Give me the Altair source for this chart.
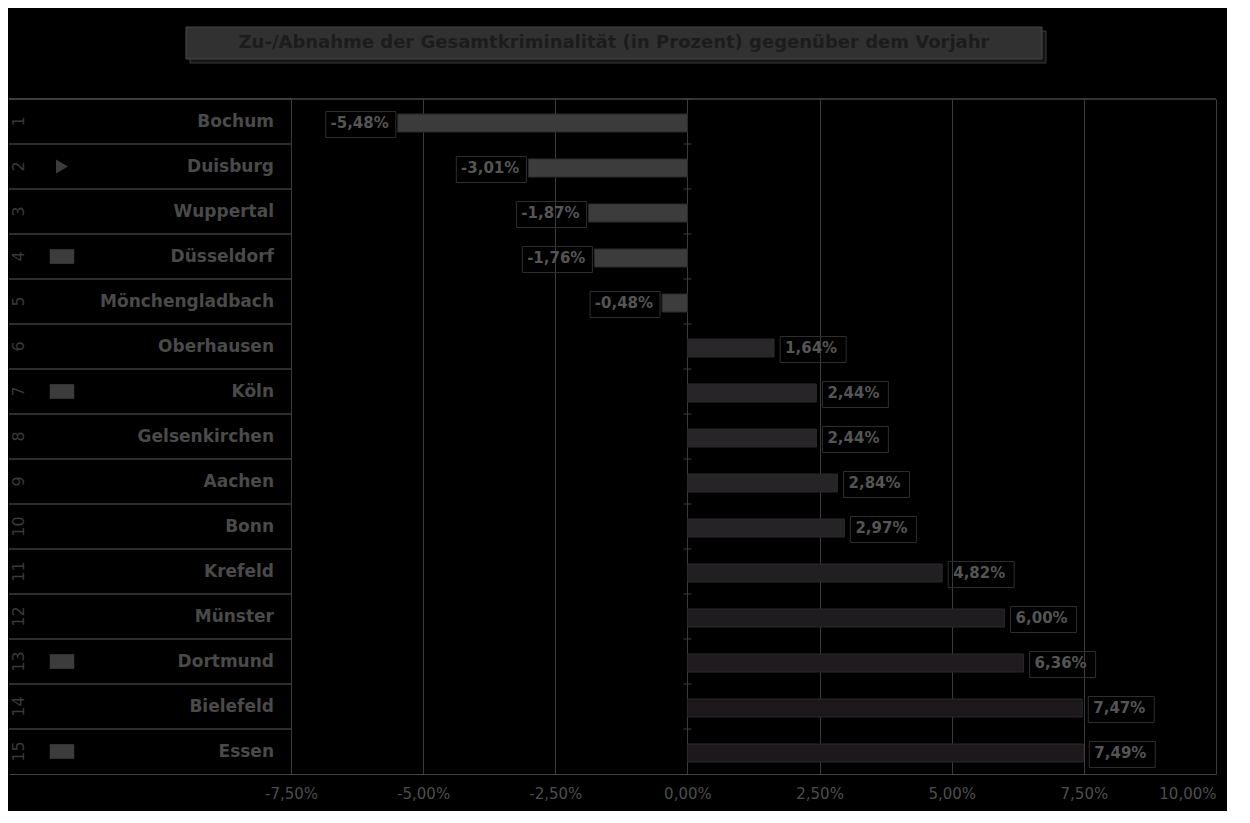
import altair as alt
import pandas as pd

cities = ["Bochum", "Duisburg", "Wuppertal", "Düsseldorf", "Mönchengladbach",
          "Oberhausen", "Köln", "Gelsenkirchen", "Aachen", "Bonn", "Krefeld",
          "Münster", "Dortmund", "Bielefeld", "Essen"]
values = [-5.48, -3.01, -1.87, -1.76, -0.48, 1.64, 2.44, 2.44, 2.84, 2.97,
          4.82, 6.00, 6.36, 7.47, 7.49]
ranks = list(range(1, 16))
markers = ["", "triangle", "", "square", "", "", "square", "", "", "", "",
           "", "square", "", "square"]
tick_values = [-7.5, -5, -2.5, 0, 2.5, 5, 7.5, 10]
title_text = "Zu-/Abnahme der Gesamtkriminalität (in Prozent) gegenüber dem Vorjahr"

df = pd.DataFrame({
    "city": cities,
    "value": values,
    "rank": [str(r) for r in ranks],
    "marker": markers,
    "label": [f"{v:.2f}".replace(".", ",") + "%" for v in values],
})

W, H = 1207, 675
LEFT = 282
FONT = "DejaVu Sans"
GRID = "#3a3a3a"

xscale = alt.Scale(domain=[-12.835, 10], nice=False, zero=False)
yenc = alt.Y("city:N", sort=cities, axis=None,
             scale=alt.Scale(paddingInner=0, paddingOuter=0))
ytop = alt.Y("city:N", sort=cities, axis=None, bandPosition=0)

base = alt.Chart(df)

bars = base.mark_bar(size=18, yOffset=1.5, stroke="#2a2a2a", strokeWidth=1).encode(
    x=alt.X("value:Q", scale=xscale,
            axis=alt.Axis(values=tick_values, grid=True, gridColor=GRID,
                          gridWidth=1, ticks=False, domain=True,
                          domainColor="#444444", labelColor="#4e4e4e",
                          labelFont=FONT, labelFontSize=15, labelFontWeight="normal",
                          labelPadding=12, title=None,
                          labelExpr="(datum.value < 0 ? '-' : '') + replace(format(abs(datum.value), '.2f'), '.', ',') + '%'")),
    y=yenc,
    color=alt.Color("value:Q", legend=None,
                    scale=alt.Scale(domain=[-5.5, -0.01, 0, 7.5],
                                    range=["#3b3b3b", "#3d3d3d", "#2d2b2d", "#1c181c"])),
)

neg = base.transform_filter(alt.datum.value < 0)
pos = base.transform_filter(alt.datum.value >= 0)

neg_box = neg.mark_bar(size=26, yOffset=3, fillOpacity=0, stroke="#2e2e2e",
                       strokeWidth=1, xOffset=-72, x2Offset=-2).encode(
    x="value:Q", x2="value:Q", y=yenc)
pos_box = pos.mark_bar(size=26, yOffset=3, fillOpacity=0, stroke="#2e2e2e",
                       strokeWidth=1, xOffset=6, x2Offset=72).encode(
    x="value:Q", x2="value:Q", y=yenc)

neg_txt = neg.mark_text(align="right", dx=-9, dy=1, font=FONT, fontSize=15,
                        fontWeight="bold", color="#555555").encode(
    x="value:Q", y=yenc, text="label:N")
pos_txt = pos.mark_text(align="left", dx=11, dy=1, font=FONT, fontSize=15,
                        fontWeight="bold", color="#555555").encode(
    x="value:Q", y=yenc, text="label:N")

# row separators in the label panel
row_lines = base.mark_rule(color="#3c3c3c", strokeWidth=1.5).encode(
    y=ytop, x=alt.value(0), x2=alt.value(LEFT))
# small ticks on zero axis at category boundaries
zero_ticks = base.mark_rule(color="#3c3c3c", xOffset=-4, x2Offset=4).encode(
    y=ytop, x=alt.datum(0), x2=alt.datum(0))
# top frame line
top_line = alt.Chart(pd.DataFrame({"k": [0]})).mark_rule(
    color="#444444", strokeWidth=1.5).encode(
    y=alt.value(0), x=alt.value(0), x2=alt.value(W))

rank_txt = base.mark_text(angle=270, font=FONT, fontSize=16,
                          color="#3a3a3a").encode(
    x=alt.value(10), y=yenc, text="rank:N")
city_txt = base.mark_text(align="right", font=FONT, fontSize=17,
                          fontWeight="bold", color="#4a4a4a").encode(
    x=alt.value(265), y=yenc, text="city:N")
sq = base.transform_filter(alt.datum.marker == "square").mark_point(
    shape="M-1,-0.6H1V0.6H-1Z", size=600, filled=True, opacity=1,
    color="#3c3c3c").encode(x=alt.value(53), y=yenc)
tri = base.transform_filter(alt.datum.marker == "triangle").mark_point(
    shape="triangle-right", size=190, filled=True, opacity=1,
    color="#3c3c3c").encode(x=alt.value(53), y=yenc)

tdf = pd.DataFrame({"t": [title_text]})
title_shadow = alt.Chart(tdf).mark_rect(fill="#151515", stroke="#3a3a3a").encode(
    x=alt.value(181), x2=alt.value(1037), y=alt.value(-68), y2=alt.value(-36))
title_box = alt.Chart(tdf).mark_rect(fill="#313131", stroke="#474747").encode(
    x=alt.value(177), x2=alt.value(1033), y=alt.value(-72), y2=alt.value(-40))
title_txt = alt.Chart(tdf).mark_text(font=FONT, fontSize=18, fontWeight="bold",
                                     color="#1c1c1c").encode(
    x=alt.value(605), y=alt.value(-56), text="t:N")

chart = alt.layer(
    bars, row_lines, zero_ticks, top_line, neg_box, pos_box, neg_txt, pos_txt,
    rank_txt, city_txt, sq, tri, title_shadow, title_box, title_txt,
).properties(
    width=W, height=H, background="black",
    padding={"left": 0, "top": 18, "right": 10, "bottom": 10},
).configure_view(stroke=None)

chart.save("out.html", embed_options={"renderer": "svg", "actions": False})
